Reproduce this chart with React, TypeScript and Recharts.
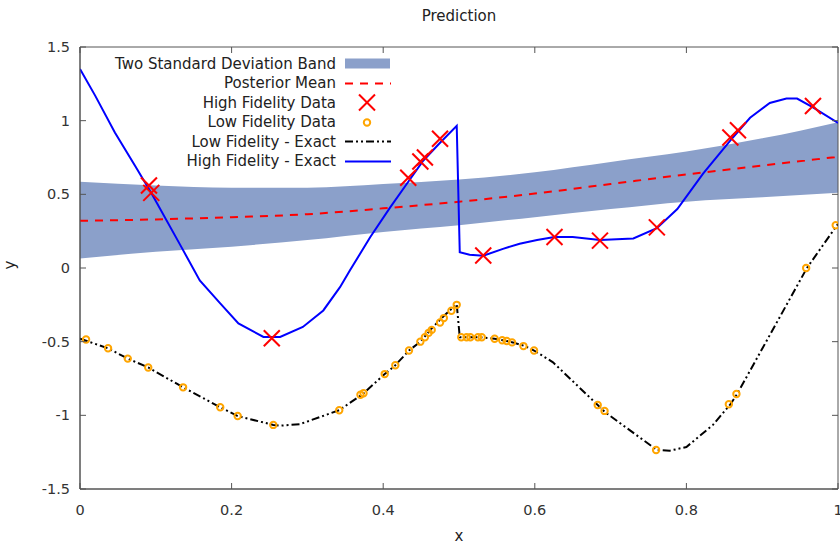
import React from 'react';
import { ComposedChart, Area, Line, Scatter, XAxis, YAxis, ReferenceArea } from 'recharts';

// posterior band + mean, sampled on a coarse grid
const bandX = [0, 0.1, 0.2, 0.3, 0.4, 0.5, 0.6, 0.7, 0.8, 0.9, 1.0];
const bandLower = [0.065, 0.11, 0.145, 0.19, 0.245, 0.29, 0.345, 0.4, 0.45, 0.48, 0.51];
const bandUpper = [0.585, 0.56, 0.545, 0.545, 0.57, 0.6, 0.65, 0.72, 0.79, 0.88, 0.99];
const meanY = [0.32, 0.33, 0.345, 0.365, 0.405, 0.45, 0.505, 0.57, 0.635, 0.695, 0.755];

// high fidelity exact curve
const hfExactX = [0, 0.02, 0.046, 0.073, 0.095, 0.134, 0.158, 0.185, 0.209, 0.242, 0.264, 0.294, 0.321, 0.343, 0.356, 0.383, 0.409, 0.431, 0.453, 0.475, 0.497, 0.501, 0.514, 0.532, 0.558, 0.58, 0.603, 0.626, 0.65, 0.686, 0.73, 0.761, 0.788, 0.822, 0.857, 0.884, 0.91, 0.932, 0.946, 0.967, 1.0];
const hfExactY = [1.35, 1.17, 0.92, 0.69, 0.5, 0.14, -0.085, -0.24, -0.376, -0.468, -0.468, -0.4, -0.288, -0.13, -0.017, 0.21, 0.41, 0.57, 0.73, 0.85, 0.965, 0.107, 0.09, 0.083, 0.13, 0.165, 0.19, 0.21, 0.21, 0.19, 0.2, 0.27, 0.4, 0.64, 0.86, 1.02, 1.12, 1.15, 1.15, 1.09, 0.985];

// low fidelity exact curve
const lfExactX = [0, 0.037, 0.063, 0.09, 0.136, 0.185, 0.208, 0.255, 0.264, 0.29, 0.342, 0.372, 0.402, 0.416, 0.434, 0.449, 0.464, 0.481, 0.497, 0.501, 0.514, 0.528, 0.547, 0.558, 0.571, 0.587, 0.599, 0.624, 0.683, 0.693, 0.761, 0.778, 0.8, 0.835, 0.858, 0.867, 0.959, 1.0];
const lfExactY = [-0.48, -0.545, -0.615, -0.675, -0.81, -0.945, -1.005, -1.065, -1.07, -1.06, -0.965, -0.86, -0.72, -0.66, -0.56, -0.5, -0.41, -0.32, -0.245, -0.47, -0.47, -0.47, -0.48, -0.49, -0.505, -0.53, -0.56, -0.64, -0.93, -0.98, -1.235, -1.24, -1.215, -1.065, -0.925, -0.855, 0.0, 0.3];

// sampled observations
const hfDataX = [0.091, 0.094, 0.253, 0.433, 0.449, 0.455, 0.475, 0.532, 0.626, 0.686, 0.761, 0.858, 0.868, 0.967];
const hfDataY = [0.56, 0.51, -0.477, 0.613, 0.723, 0.75, 0.877, 0.085, 0.21, 0.186, 0.276, 0.886, 0.935, 1.1];
const lfDataX = [0.008, 0.037, 0.063, 0.09, 0.136, 0.185, 0.208, 0.255, 0.342, 0.37, 0.374, 0.402, 0.416, 0.434, 0.449, 0.455, 0.46, 0.464, 0.475, 0.48, 0.49, 0.497, 0.503, 0.51, 0.515, 0.525, 0.53, 0.547, 0.557, 0.563, 0.57, 0.585, 0.599, 0.683, 0.692, 0.76, 0.856, 0.866, 0.958, 0.997];
const lfDataY = [-0.485, -0.545, -0.615, -0.675, -0.81, -0.945, -1.005, -1.065, -0.965, -0.86, -0.85, -0.72, -0.66, -0.56, -0.5, -0.47, -0.44, -0.42, -0.37, -0.34, -0.29, -0.25, -0.47, -0.47, -0.47, -0.47, -0.47, -0.48, -0.49, -0.495, -0.505, -0.53, -0.56, -0.93, -0.97, -1.235, -0.925, -0.855, 0.0, 0.29];

const xTicks = [0, 0.2, 0.4, 0.6, 0.8, 1];
const yTicks = [-1.5, -1, -0.5, 0, 0.5, 1, 1.5];

const bandData = bandX.map((x, i) => ({ x, band: [bandLower[i], bandUpper[i]], mean: meanY[i] }));
const zip = (xs: number[], ys: number[]) => xs.map((x, i) => ({ x, y: ys[i] }));
const hfExact = zip(hfExactX, hfExactY);
const lfExact = zip(lfExactX, lfExactY);
const hfData = zip(hfDataX, hfDataY);
const lfData = zip(lfDataX, lfDataY);

const FONT = '"DejaVu Sans", sans-serif';
const BORDER = '#555';
const BAND = '#8ba0ca';
const LF_DASH = '8 3 2 3 2 3';
const W = 840;
const H = 547;
const M = { top: 47, right: 2, bottom: 28, left: 30 };
const PLOT_RIGHT = W - M.right;
const PLOT_TOP = M.top;

const Cross = (p: any) => {
  const { cx, cy } = p;
  const s = 8;
  return (
    <g stroke="#ff0000" strokeWidth={2}>
      <line x1={cx - s} y1={cy - s} x2={cx + s} y2={cy + s} />
      <line x1={cx - s} y1={cy + s} x2={cx + s} y2={cy - s} />
    </g>
  );
};

const Ring = (p: any) => (
  <circle cx={p.cx} cy={p.cy} r={3.2} fill="none" stroke="#ffa500" strokeWidth={2} />
);

const LeftTick = (p: any) => {
  const ax = p.x + 10;
  return (
    <g>
      <line x1={ax} x2={ax + 6} y1={p.y} y2={p.y} stroke={BORDER} />
      <line x1={PLOT_RIGHT} x2={PLOT_RIGHT - 6} y1={p.y} y2={p.y} stroke={BORDER} />
      <text x={p.x} y={p.y} dy={5} textAnchor="end" fontSize={14.5} fill="#333" fontFamily={FONT}>{String(p.payload.value)}</text>
    </g>
  );
};
const BottomTick = (p: any) => {
  const ay = p.y - 8;
  return (
    <g>
      <line x1={p.x} x2={p.x} y1={ay} y2={ay - 6} stroke={BORDER} />
      <line x1={p.x} x2={p.x} y1={PLOT_TOP} y2={PLOT_TOP + 6} stroke={BORDER} />
      <text x={p.x} y={ay + 26} textAnchor="middle" fontSize={14.5} fill="#333" fontFamily={FONT}>{String(p.payload.value)}</text>
    </g>
  );
};

const legendRows = [
  { label: 'Two Standard Deviation Band', kind: 'band' },
  { label: 'Posterior Mean', kind: 'mean' },
  { label: 'High Fidelity Data', kind: 'cross' },
  { label: 'Low Fidelity Data', kind: 'ring' },
  { label: 'Low Fidelity - Exact', kind: 'lf' },
  { label: 'High Fidelity - Exact', kind: 'hf' },
];

function LegendBox() {
  return (
    <div style={{ position: 'absolute', left: 60, top: 54, fontFamily: FONT, fontSize: 15, color: '#222' }}>
      {legendRows.map((r) => (
        <div key={r.label} style={{ display: 'flex', alignItems: 'center', height: 19.5 }}>
          <div style={{ width: 276, textAlign: 'right', whiteSpace: 'nowrap' }}>{r.label}</div>
          <svg width={60} height={19} style={{ marginLeft: 9 }}>
            {r.kind === 'band' && <rect x={0} y={4.5} width={45} height={10} fill={BAND} />}
            {r.kind === 'mean' && <line x1={0} x2={46} y1={9.5} y2={9.5} stroke="#ff0000" strokeWidth={2} strokeDasharray="8 7" />}
            {r.kind === 'cross' && <Cross cx={22} cy={9.5} />}
            {r.kind === 'ring' && <Ring cx={22} cy={9.5} />}
            {r.kind === 'lf' && <line x1={0} x2={46} y1={9.5} y2={9.5} stroke="#000" strokeWidth={2} strokeDasharray={LF_DASH} />}
            {r.kind === 'hf' && <line x1={0} x2={46} y1={9.5} y2={9.5} stroke="#0000ff" strokeWidth={2} />}
          </svg>
        </div>
      ))}
    </div>
  );
}

export default function App() {
  return (
    <div style={{ position: 'absolute', left: 0, top: 0, width: W, height: H, background: '#fff' }}>
      <ComposedChart width={W} height={H} data={bandData} margin={M}>
        <XAxis dataKey="x" type="number" domain={[0, 1]} ticks={xTicks} interval={0}
          tickSize={0} tickMargin={8} height={30} stroke={BORDER} tick={<BottomTick />} allowDataOverflow />
        <YAxis type="number" domain={[-1.5, 1.5]} ticks={yTicks} interval={0}
          tickSize={0} tickMargin={10} width={50} stroke={BORDER} tick={<LeftTick />} allowDataOverflow />
        <Area dataKey="band" type="monotone" fill={BAND} fillOpacity={1} stroke="none" isAnimationActive={false} />
        <Line dataKey="mean" type="monotone" stroke="#ff0000" strokeWidth={2} strokeDasharray="8 7" dot={false} isAnimationActive={false} />
        <Line data={lfExact} dataKey="y" type="linear" stroke="#000" strokeWidth={2} strokeDasharray={LF_DASH} dot={false} isAnimationActive={false} />
        <Line data={hfExact} dataKey="y" type="linear" stroke="#0000ff" strokeWidth={2} dot={false} isAnimationActive={false} />
        <Scatter data={lfData} dataKey="y" shape={<Ring />} isAnimationActive={false} />
        <Scatter data={hfData} dataKey="y" shape={<Cross />} isAnimationActive={false} />
        <ReferenceArea x1={0} x2={1} y1={-1.5} y2={1.5} fill="none" fillOpacity={0} stroke={BORDER} strokeWidth={1} />
      </ComposedChart>
      <LegendBox />
      <div style={{ position: 'absolute', left: 0, width: 918, top: 7, textAlign: 'center', fontFamily: FONT, fontSize: 15, color: '#222' }}>Prediction</div>
      <div style={{ position: 'absolute', left: 0, width: 918, top: 527, textAlign: 'center', fontFamily: FONT, fontSize: 15, color: '#222' }}>x</div>
      <div style={{ position: 'absolute', left: 6, top: 256, fontFamily: FONT, fontSize: 15, color: '#222', transform: 'rotate(-90deg)' }}>y</div>
    </div>
  );
}
